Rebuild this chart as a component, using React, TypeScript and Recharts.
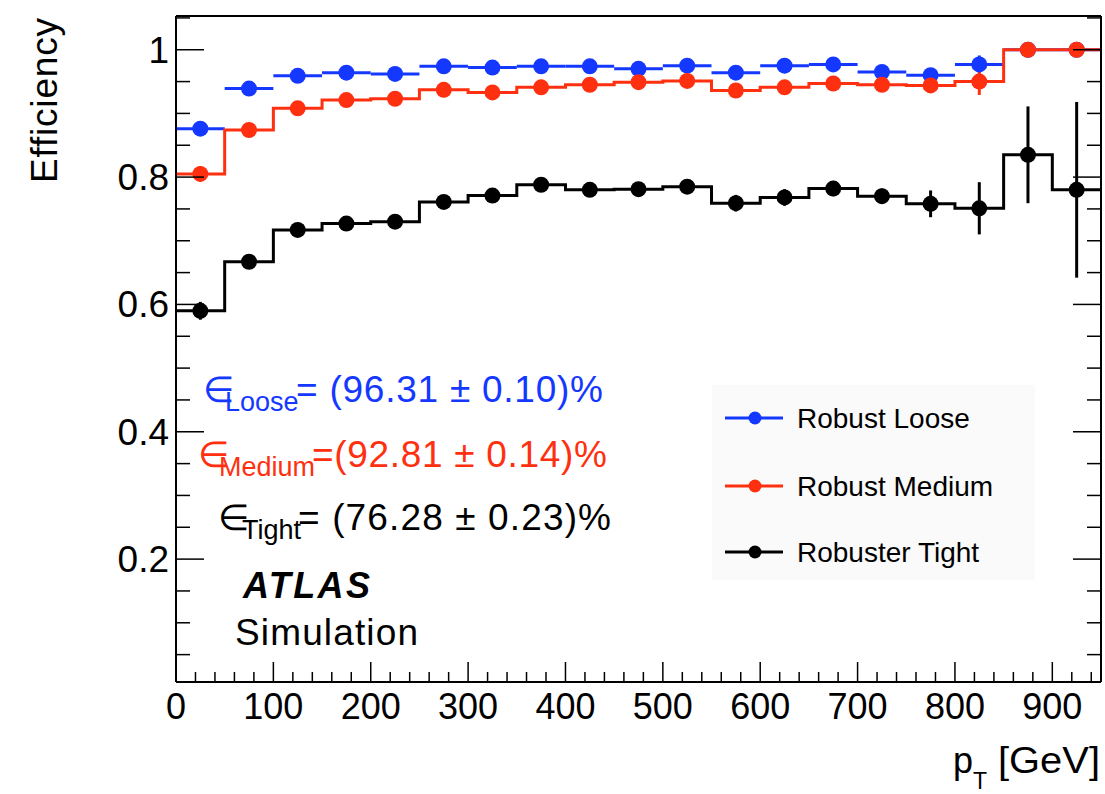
import React from "react";
import {
  ComposedChart,
  Line,
  Scatter,
  ErrorBar,
  XAxis,
  YAxis,
  Legend,
} from "recharts";

const binCenters = [25, 75, 125, 175, 225, 275, 325, 375, 425, 475, 525, 575, 625, 675, 725, 775, 825, 875, 925];
const binEdges = [0, 50, 100, 150, 200, 250, 300, 350, 400, 450, 500, 550, 600, 650, 700, 750, 800, 850, 900, 950];
const binHalfWidth = 25;

const looseEff = [0.876, 0.939, 0.959, 0.964, 0.962, 0.974, 0.972, 0.974, 0.974, 0.97, 0.975, 0.964, 0.975, 0.977, 0.965, 0.96, 0.977, 1.0, 1.0];
const looseErr = [0.004, 0.003, 0.003, 0.003, 0.003, 0.003, 0.003, 0.003, 0.003, 0.003, 0.003, 0.004, 0.004, 0.004, 0.005, 0.006, 0.014, 0, 0];

const mediumEff = [0.805, 0.874, 0.908, 0.921, 0.923, 0.937, 0.933, 0.941, 0.945, 0.949, 0.951, 0.936, 0.941, 0.947, 0.945, 0.944, 0.95, 1.0, 1.0];
const mediumErr = [0.012, 0.005, 0.004, 0.004, 0.004, 0.004, 0.004, 0.004, 0.004, 0.005, 0.005, 0.006, 0.006, 0.007, 0.008, 0.009, 0.021, 0, 0];

const tightEff = [0.59, 0.667, 0.717, 0.727, 0.73, 0.761, 0.771, 0.788, 0.78, 0.781, 0.785, 0.759, 0.768, 0.782, 0.77, 0.758, 0.751, 0.835, 0.78];
const tightErr = [0.014, 0.008, 0.007, 0.007, 0.007, 0.008, 0.008, 0.008, 0.009, 0.01, 0.011, 0.013, 0.013, 0.012, 0.012, 0.021, 0.041, 0.076, 0.138];

const legendLabels = ["Robust Loose", "Robust Medium", "Robuster Tight"];
const seriesColors = ["#1438ff", "#ff3010", "#000000"];

const xMajorTicks = [0, 100, 200, 300, 400, 500, 600, 700, 800, 900];
const yMajorTicks = [0.2, 0.4, 0.6, 0.8, 1];

// minor ticks: 5 per 100 GeV, 4 per 0.2 in efficiency
const xTicks = Array.from({ length: 48 }, (_, i) => i * 20);
const yTicks = Array.from({ length: 21 }, (_, i) => ((i + 1) * 5) / 100);

const FONT = "'Liberation Sans', Arial, Helvetica, sans-serif";

const pointRows = (eff: number[], err: number[]) =>
  binCenters.map((x, i) => ({ x, y: eff[i], ex: binHalfWidth, ey: err[i] }));

const stepRows = (eff: number[]) =>
  binEdges.map((x, i) => ({ x, y: eff[Math.min(i, eff.length - 1)] }));

const isMajorX = (v: number) => xMajorTicks.includes(v);
const isMajorY = (v: number) => yMajorTicks.some((m) => Math.abs(m - v) < 1e-6);

function makeTick(side: "bottom" | "top" | "left" | "right") {
  return (props: any) => {
    const { x, y, payload } = props;
    const v = payload.value;
    if (side === "bottom" || side === "top") {
      const len = isMajorX(v) ? 20 : 10;
      const dir = side === "bottom" ? -1 : 1;
      return (
        <g>
          <line x1={x} y1={y} x2={x} y2={y + dir * len} stroke="#000" strokeWidth={1.5} />
          {side === "bottom" && isMajorX(v) && (
            <text x={x} y={y + 37} textAnchor="middle" fontSize={36} fontFamily={FONT} fill="#000">
              {v}
            </text>
          )}
        </g>
      );
    }
    const len = isMajorY(v) ? 28 : 14;
    const dir = side === "left" ? 1 : -1;
    return (
      <g>
        <line x1={x} y1={y} x2={x + dir * len} y2={y} stroke="#000" strokeWidth={1.5} />
        {side === "left" && isMajorY(v) && (
          <text x={x - 7} y={y + 13} textAnchor="end" fontSize={37} fontFamily={FONT} fill="#000">
            {Number(v.toFixed(1)).toString()}
          </text>
        )}
      </g>
    );
  };
}

const dotShape = (color: string) => (p: any) =>
  <circle cx={p.cx} cy={p.cy} r={8} fill={color} />;

function LegendBox() {
  const rows = [33, 101, 167];
  return (
    <svg width={323} height={195} style={{ display: "block" }}>
      <rect x={0} y={0} width={323} height={195} fill="#fafafa" />
      {legendLabels.map((label, i) => (
        <g key={label}>
          <line x1={13} y1={rows[i]} x2={71} y2={rows[i]} stroke={seriesColors[i]} strokeWidth={3} />
          <circle cx={43} cy={rows[i]} r={6.5} fill={seriesColors[i]} />
          <text x={85} y={rows[i] + 10} fontSize={28} fontFamily={FONT} fill="#000">
            {label}
          </text>
        </g>
      ))}
    </svg>
  );
}

function Overlay() {
  return (
    <svg
      width={1105}
      height={794}
      style={{ position: "absolute", left: 0, top: 0, pointerEvents: "none" }}
      fontFamily={FONT}
    >
      {/* axis titles */}
      <text transform="translate(57,18) rotate(-90)" textAnchor="end" fontSize={37} textLength={165}>
        Efficiency
      </text>
      <text x={953} y={773} fontSize={36}>p</text>
      <text x={973} y={789} fontSize={23}>T</text>
      <text x={998} y={773} fontSize={36} textLength={102} lengthAdjust="spacingAndGlyphs">[GeV]</text>

      {/* efficiency summaries */}
      <g fill={seriesColors[0]}>
        <text x={203} y={402} fontSize={36}>∈</text>
        <text x={225} y={411} fontSize={27}>Loose</text>
        <text x={296} y={402} fontSize={37} textLength={307} lengthAdjust="spacing">= (96.31 ± 0.10)%</text>
      </g>
      <g fill={seriesColors[1]}>
        <text x={198} y={467} fontSize={36}>∈</text>
        <text x={219} y={476} fontSize={27}>Medium</text>
        <text x={312} y={467} fontSize={37} textLength={295} lengthAdjust="spacing">=(92.81 ± 0.14)%</text>
      </g>
      <g fill="#000">
        <text x={218} y={530} fontSize={36}>∈</text>
        <text x={242} y={539} fontSize={27}>Tight</text>
        <text x={298} y={530} fontSize={37} textLength={313} lengthAdjust="spacing">= (76.28 ± 0.23)%</text>
      </g>

      <text x={243} y={598} fontSize={36} fontWeight="bold" fontStyle="italic" textLength={127}>
        ATLAS
      </text>
      <text x={235} y={645} fontSize={37} textLength={183}>
        Simulation
      </text>
    </svg>
  );
}

export default function App() {
  return (
    <div style={{ position: "absolute", left: 0, top: 0, width: 1105, height: 794, background: "#fff" }}>
      <ComposedChart
        width={1105}
        height={794}
        margin={{ top: 15, right: 3, bottom: 111, left: 175 }}
      >
        <XAxis
          dataKey="x"
          type="number"
          domain={[0, 950]}
          ticks={xTicks}
          interval={0}
          height={1}
          tickSize={0}
          tickMargin={0}
          allowDataOverflow
          axisLine={{ stroke: "#000", strokeWidth: 2 }}
          tickLine={false}
          tick={makeTick("bottom")}
        />
        <XAxis
          xAxisId="top"
          orientation="top"
          type="number"
          domain={[0, 950]}
          ticks={xTicks}
          interval={0}
          height={1}
          tickSize={0}
          tickMargin={0}
          allowDataOverflow
          axisLine={{ stroke: "#000", strokeWidth: 2 }}
          tickLine={false}
          tick={makeTick("top")}
        />
        <YAxis
          dataKey="y"
          type="number"
          domain={[0.007, 1.053]}
          ticks={yTicks}
          interval={0}
          width={1}
          tickSize={0}
          tickMargin={0}
          allowDataOverflow
          axisLine={{ stroke: "#000", strokeWidth: 2 }}
          tickLine={false}
          tick={makeTick("left")}
        />
        <YAxis
          yAxisId="right"
          orientation="right"
          type="number"
          domain={[0.007, 1.053]}
          ticks={yTicks}
          interval={0}
          width={1}
          tickSize={0}
          tickMargin={0}
          allowDataOverflow
          axisLine={{ stroke: "#000", strokeWidth: 2 }}
          tickLine={false}
          tick={makeTick("right")}
        />

        <Scatter
          data={pointRows(looseEff, looseErr)}
          fill={seriesColors[0]}
          shape={dotShape(seriesColors[0])}
          isAnimationActive={false}
          legendType="none"
        >
          <ErrorBar dataKey="ex" direction="x" width={0} stroke={seriesColors[0]} strokeWidth={3} />
          <ErrorBar dataKey="ey" direction="y" width={0} stroke={seriesColors[0]} strokeWidth={3} />
        </Scatter>

        <Line
          data={stepRows(mediumEff)}
          dataKey="y"
          type="stepAfter"
          stroke={seriesColors[1]}
          strokeWidth={3}
          dot={false}
          activeDot={false}
          isAnimationActive={false}
          legendType="none"
        />
        <Scatter
          data={pointRows(mediumEff, mediumErr)}
          fill={seriesColors[1]}
          shape={dotShape(seriesColors[1])}
          isAnimationActive={false}
          legendType="none"
        >
          <ErrorBar dataKey="ey" direction="y" width={0} stroke={seriesColors[1]} strokeWidth={3} />
        </Scatter>

        <Line
          data={stepRows(tightEff)}
          dataKey="y"
          type="stepAfter"
          stroke={seriesColors[2]}
          strokeWidth={3}
          dot={false}
          activeDot={false}
          isAnimationActive={false}
          legendType="none"
        />
        <Scatter
          data={pointRows(tightEff, tightErr)}
          fill={seriesColors[2]}
          shape={dotShape(seriesColors[2])}
          isAnimationActive={false}
          legendType="none"
        >
          <ErrorBar dataKey="ey" direction="y" width={0} stroke={seriesColors[2]} strokeWidth={3} />
        </Scatter>

        <Legend
          layout="horizontal"
          verticalAlign="middle"
          align="center"
          wrapperStyle={{ position: "absolute", left: 712, top: 385, width: 323, height: 195 }}
          content={() => <LegendBox />}
        />
      </ComposedChart>
      <Overlay />
    </div>
  );
}
